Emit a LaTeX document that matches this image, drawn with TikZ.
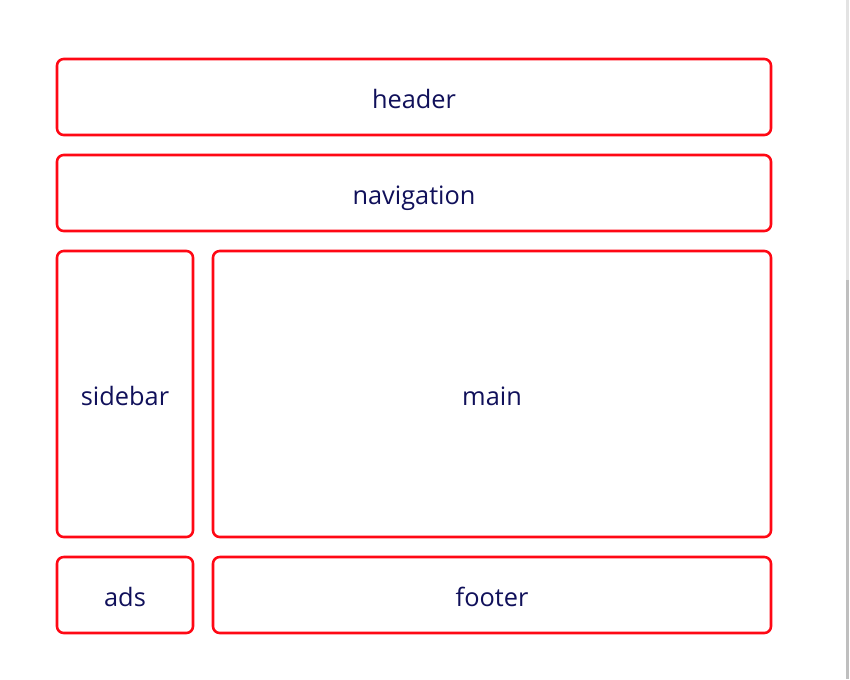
\documentclass[tikz,border=0pt]{standalone}
\usepackage{fontspec}
\setmainfont{Open Sans}
\definecolor{boxred}{RGB}{255, 8, 20}
\definecolor{textnavy}{RGB}{16, 16, 90}
\usetikzlibrary{positioning}

\begin{document}
\begin{tikzpicture}[x=0.75pt, y=-0.75pt,
  area/.style={draw=boxred, line width=1.9pt, rounded corners=5pt, text=textnavy,
    font=\fontsize{19}{23}\selectfont, text height=16.5pt, text depth=0pt, inner sep=0pt}]
  % Page
  \useasboundingbox[fill=white] (0, 0) rectangle (850, 679);
  \fill[gray!22] (846, 0) rectangle (848.5, 280);
  \fill[gray!50] (846, 280) rectangle (848.5, 679);

  % Full-width rows
  \node[area, minimum width=535.5pt, minimum height=57pt] (header) at (414, 97) {header};
  \node[area, minimum width=535.5pt, minimum height=57pt] (nav) at (414, 193) {navigation};

  % Middle row
  \node[area, minimum width=102pt, minimum height=214.5pt] (sidebar) at (125, 394) {sidebar};
  \node[area, minimum width=418.5pt, minimum height=214.5pt] (main) at (492, 394) {main};

  % Bottom row
  \node[area, minimum width=102pt, minimum height=57pt] (ads) at (125, 595) {ads};
  \node[area, minimum width=418.5pt, minimum height=57pt] (footer) at (492, 595) {footer};
\end{tikzpicture}
\end{document}
